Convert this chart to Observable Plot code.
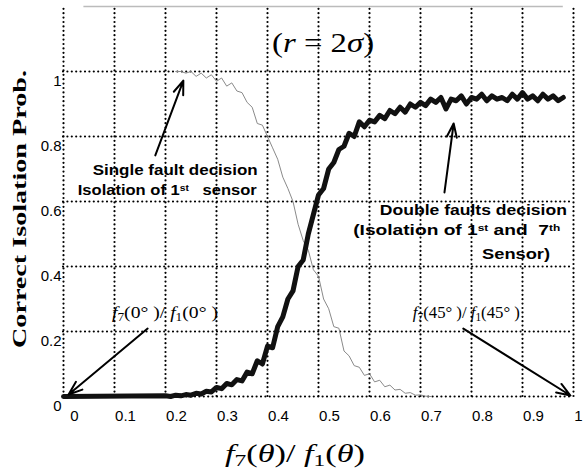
<!DOCTYPE html>
<html><head><meta charset="utf-8">
<script src="https://cdn.jsdelivr.net/npm/d3@7"></script>
<script src="https://cdn.jsdelivr.net/npm/@observablehq/plot@0.6"></script>
<style>body{margin:0;background:#fff} svg{display:block}</style>
</head><body><div id="chart"></div>
<script>
// ---- data ----
const xTicks = [0, 0.1, 0.2, 0.3, 0.4, 0.5, 0.6, 0.7, 0.8, 0.9, 1];
const yTicks = [0, 0.2, 0.4, 0.6, 0.8, 1];
const xTickLabels = ["0", "0.1", "0.2", "0.3", "0.4", "0.5", "0.6", "0.7", "0.8", "0.9", "1"];
const yTickLabels = ["0", "0.2", "0.4", "0.6", "0.8", "1"];

// Double faults decision (thick black curve)
const doubleX = [0, 0.20, 0.21, 0.22, 0.23, 0.24, 0.25, 0.26, 0.27, 0.28, 0.29,
  0.30, 0.31, 0.32, 0.33, 0.34, 0.35, 0.36, 0.37, 0.38, 0.39,
  0.40, 0.41, 0.42, 0.43, 0.44, 0.45, 0.46, 0.47, 0.48, 0.49,
  0.50, 0.51, 0.52, 0.53, 0.54, 0.55, 0.56, 0.57, 0.58, 0.59,
  0.60, 0.61, 0.62, 0.63, 0.64, 0.65, 0.66, 0.67, 0.68, 0.69,
  0.70, 0.71, 0.72, 0.73, 0.74, 0.75, 0.76, 0.77, 0.78, 0.79,
  0.80, 0.81, 0.82, 0.83, 0.84, 0.85, 0.86, 0.87, 0.88, 0.89,
  0.90, 0.91, 0.92, 0.93, 0.94, 0.95, 0.96, 0.97, 0.98];
const doubleY = [0, 0.002, 0.000, 0.004, 0.002, 0.006, 0.004, 0.010, 0.008, 0.016, 0.014,
  0.028, 0.024, 0.040, 0.036, 0.052, 0.048, 0.075, 0.070, 0.110, 0.100,
  0.155, 0.150, 0.215, 0.245, 0.300, 0.325, 0.400, 0.420, 0.500, 0.560,
  0.620, 0.640, 0.700, 0.720, 0.760, 0.770, 0.810, 0.800, 0.845, 0.830,
  0.850, 0.845, 0.865, 0.855, 0.880, 0.870, 0.890, 0.875, 0.900, 0.890,
  0.905, 0.895, 0.915, 0.905, 0.920, 0.885, 0.915, 0.910, 0.925, 0.900,
  0.920, 0.915, 0.930, 0.910, 0.925, 0.915, 0.920, 0.910, 0.930, 0.915,
  0.935, 0.915, 0.925, 0.910, 0.930, 0.915, 0.925, 0.910, 0.920];

// Single fault decision (thin grey curve)
const singleX = [0.22, 0.23, 0.24, 0.25, 0.26, 0.27, 0.28, 0.29,
  0.30, 0.31, 0.32, 0.33, 0.34, 0.35, 0.36, 0.37, 0.38, 0.39,
  0.40, 0.41, 0.42, 0.43, 0.44, 0.45, 0.46, 0.47, 0.48, 0.49,
  0.50, 0.51, 0.52, 0.53, 0.54, 0.55, 0.56, 0.57, 0.58, 0.59,
  0.60, 0.61, 0.62, 0.63, 0.64, 0.65, 0.66, 0.67, 0.68, 0.69,
  0.70, 0.71, 0.72];
const singleY = [1.000, 1.000, 0.995, 1.000, 0.985, 0.995, 0.980, 0.990,
  0.970, 0.980, 0.955, 0.965, 0.940, 0.935, 0.905, 0.890, 0.840, 0.835,
  0.800, 0.765, 0.730, 0.675, 0.640, 0.600, 0.530, 0.480, 0.450, 0.390,
  0.370, 0.300, 0.270, 0.215, 0.210, 0.140, 0.125, 0.095, 0.090, 0.065,
  0.070, 0.045, 0.050, 0.030, 0.035, 0.020, 0.022, 0.010, 0.012, 0.004,
  0.005, 0.001, 0.000];

// annotation arrows (data coordinates)
const arrowX1 = [0.180, 0.747, 0.165, 0.784];
const arrowY1 = [0.742, 0.628, 0.209, 0.209];
const arrowX2 = [0.235, 0.765, 0.010, 0.994];
const arrowY2 = [0.972, 0.840, 0.006, 0.003];

const doubleData = doubleX.map((x, i) => ({x, y: doubleY[i]}));
const singleData = singleX.map((x, i) => ({x, y: singleY[i]}));
const arrowData = arrowX1.map((x1, i) => ({x1, y1: arrowY1[i], x2: arrowX2[i], y2: arrowY2[i]}));

const SANS = "'Liberation Sans', Arial, Helvetica, sans-serif";
const SERIF = "'Liberation Serif', 'Times New Roman', serif";
const dots = {stroke: "#000", strokeWidth: 2.2, strokeDasharray: "0 4.4", strokeLinecap: "round"};

const plot = Plot.plot({
  width: 586,
  height: 476,
  marginLeft: 63,
  marginRight: 13,
  marginTop: 6,
  marginBottom: 80,
  style: {fontFamily: SANS, fontSize: "15px", color: "#000", background: "#fff"},
  x: {domain: [0, 1]},
  y: {domain: [0, 1.2]},
  marks: [
    Plot.ruleY([1.2], {x1: 0.04, x2: 0.98, stroke: "#bbb", strokeWidth: 1.5}),
    Plot.ruleX(xTicks, {y1: 0, y2: 1.2, ...dots}),
    Plot.ruleY(yTicks, {x1: 0, x2: 1, ...dots}),
    Plot.line(singleData, {x: "x", y: "y", stroke: "#8a8a8a", strokeWidth: 1}),
    Plot.line(doubleData, {x: "x", y: "y", stroke: "#111", strokeWidth: 5, strokeLinejoin: "round"}),
    Plot.arrow(arrowData, {x1: "x1", y1: "y1", x2: "x2", y2: "y2", stroke: "#000", strokeWidth: 2, headLength: 11, headAngle: 40}),
    Plot.axisX(xTicks.slice(0, 10), {tickSize: 0, tickPadding: 14, dx: 11, tickFormat: (d, i) => xTickLabels[i], label: null, fontSize: 15}),
    Plot.axisX(xTicks.slice(10), {tickSize: 0, tickPadding: 14, dx: 5, tickFormat: (d, i) => xTickLabels[10 + i], label: null, fontSize: 15}),
    Plot.axisY(yTicks, {tickSize: 0, tickPadding: 2, dy: 10, tickFormat: (d, i) => yTickLabels[i], label: null, fontSize: 15})
  ]
});
document.getElementById("chart").append(plot);

const sx = plot.scale("x"), sy = plot.scale("y");
const svg = d3.select(plot);

// rich text helper: parts = [[text, flags]] flags: i=italic, sub, sup
function rich(parts, px, py, o) {
  const t = svg.append("text")
    .attr("x", px).attr("y", py)
    .attr("font-family", o.family)
    .attr("font-size", o.size)
    .attr("font-weight", o.weight || "normal")
    .attr("text-anchor", o.anchor || "start")
    .attr("fill", "#000");
  if (o.len) t.attr("textLength", o.len).attr("lengthAdjust", "spacingAndGlyphs");
  if (o.rotate) t.attr("transform", `rotate(-90,${px},${py})`);
  for (const [s, f = ""] of parts) {
    const ts = t.append("tspan").text(s);
    if (f.includes("i")) ts.attr("font-style", "italic");
    if (f.includes("sub")) ts.attr("font-size", o.size * 0.68).attr("baseline-shift", "-22%");
    if (f.includes("sup")) ts.attr("font-size", o.size * 0.62).attr("baseline-shift", "45%");
  }
  return t;
}

// title inside the plot
rich([["("], ["r", "i"], [" = 2"], ["σ", "i"], [")"]], sx.apply(0.51), sy.apply(1.058),
  {family: SERIF, size: 28, anchor: "middle", len: 102});

// annotations
const ann = {family: SANS, size: 15, weight: "bold"};
rich([["Single fault decision"]], sx.apply(0.22), sy.apply(0.680), {...ann, anchor: "middle", len: 165});
rich([["Isolation of 1"], ["st", "sup"], ["   sensor"]], sx.apply(0.029), sy.apply(0.618), {...ann, len: 179});
rich([["Double faults decision"]], sx.apply(0.988), sy.apply(0.557), {...ann, anchor: "end", len: 187});
rich([["(Isolation of 1"], ["st", "sup"], [" and  7"], ["th", "sup"]], sx.apply(0.569), sy.apply(0.495), {...ann, len: 207});
rich([["Sensor)"]], sx.apply(0.955), sy.apply(0.4215), {...ann, anchor: "end", len: 68});

rich([["f", "i"], ["7", "sub"], ["(0° )/ "], ["f", "i"], ["1", "sub"], ["(0° )"]], sx.apply(0.096), sy.apply(0.24),
  {family: SERIF, size: 17, len: 106});
rich([["f", "i"], ["7", "sub"], ["(45° )/ "], ["f", "i"], ["1", "sub"], ["(45° )"]], sx.apply(0.686), sy.apply(0.24),
  {family: SERIF, size: 17, len: 107});

// axis titles
rich([["f", "i"], ["7", "sub"], ["("], ["θ", "i"], [")/ "], ["f", "i"], ["1", "sub"], ["("], ["θ", "i"], [")"]], 295, 462,
  {family: SERIF, size: 25, anchor: "middle", len: 140});
rich([["Correct Isolation Prob."]], 26, 209,
  {family: SERIF, size: 19, weight: "bold", anchor: "middle", len: 278, rotate: true});
</script>
</body></html>
